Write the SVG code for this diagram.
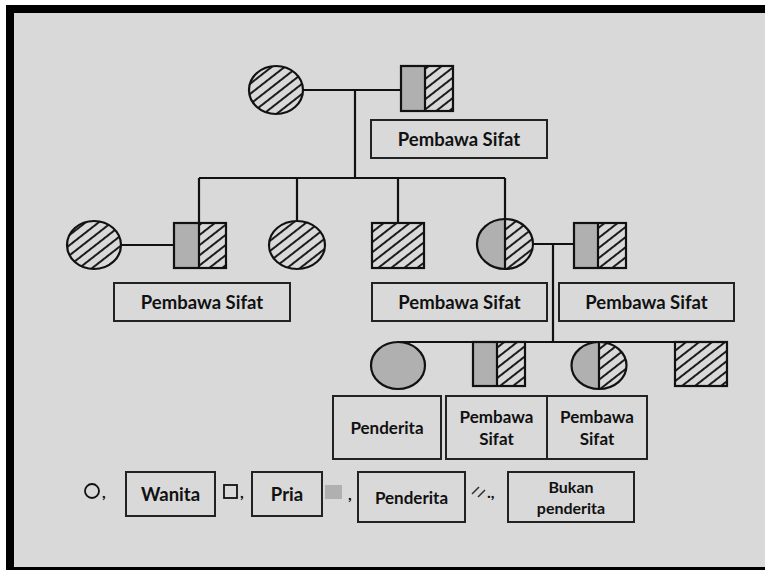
<svg xmlns="http://www.w3.org/2000/svg" width="765" height="571" viewBox="0 0 765 571">
<style>
.sh{stroke:#111;stroke-width:2.2;}
.g{fill:#b0b0b0;}
.h{fill:url(#hatch);}
.box{fill:none;stroke:#222;stroke-width:2;}
.t{font-family:Lato,"Open Sans",sans-serif;font-weight:bold;fill:#111;text-anchor:middle;}
.ln{stroke:#111;stroke-width:2.2;fill:none;}
</style>
<defs>
<pattern id="hatch" patternUnits="userSpaceOnUse" width="8" height="8" patternTransform="rotate(52)">
<line x1="4" y1="0" x2="4" y2="8" stroke="#111" stroke-width="1.9"/>
</pattern>
</defs>
<rect x="0" y="0" width="765" height="571" fill="#ffffff"/>
<rect x="6" y="5" width="759" height="565" fill="#d9d9d9"/>
<rect x="6" y="5" width="759" height="8" fill="#000"/>
<rect x="6" y="5" width="8" height="565" fill="#000"/>
<rect x="6" y="567" width="759" height="3" fill="#000"/>

<g id="connectors" class="ln">
<line x1="303" y1="90" x2="401" y2="90"/>
<line x1="355" y1="90" x2="355" y2="178"/>
<line x1="199" y1="178" x2="505" y2="178"/>
<line x1="199" y1="178" x2="199" y2="223"/>
<line x1="297" y1="178" x2="297" y2="221"/>
<line x1="398" y1="178" x2="398" y2="223"/>
<line x1="505" y1="178" x2="505" y2="219"/>
<line x1="121" y1="245" x2="174" y2="245"/>
<line x1="533" y1="244" x2="574" y2="244"/>
<line x1="553" y1="244" x2="553" y2="342"/>
<line x1="398" y1="342" x2="727" y2="342"/>
</g>

<g id="gen1-female">
<ellipse cx="276" cy="90" rx="27" ry="24" class="sh h"/>
</g>
<g id="gen1-male">
<rect x="401" y="66" width="24" height="45" class="g"/>
<rect x="425" y="66" width="28" height="45" class="h"/>
<rect x="401" y="66" width="52" height="45" class="sh" fill="none"/>
<line x1="425" y1="66" x2="425" y2="111" class="sh"/>
</g>
<g id="label-gen1">
<rect x="371" y="120" width="176" height="38" class="box"/>
<text x="459" y="146" class="t" font-size="18.5">Pembawa Sifat</text>
</g>

<g id="gen2-wife">
<ellipse cx="94" cy="245" rx="27" ry="24" class="sh h"/>
</g>
<g id="gen2-son1">
<rect x="174" y="223" width="25" height="45" class="g"/>
<rect x="199" y="223" width="27" height="45" class="h"/>
<rect x="174" y="223" width="52" height="45" class="sh" fill="none"/>
<line x1="199" y1="223" x2="199" y2="268" class="sh"/>
</g>
<g id="label-gen2-son1">
<rect x="114" y="283" width="176" height="38" class="box"/>
<text x="202" y="309" class="t" font-size="18.5">Pembawa Sifat</text>
</g>
<g id="gen2-daughter1">
<ellipse cx="297" cy="245" rx="28" ry="24" class="sh h"/>
</g>
<g id="gen2-son2">
<rect x="372" y="223" width="52" height="45" class="sh h"/>
</g>
<g id="gen2-daughter2">
<path d="M505,219 A28,25 0 0 0 505,269 Z" class="g"/>
<path d="M505,219 A28,25 0 0 1 505,269 Z" class="h"/>
<ellipse cx="505" cy="244" rx="28" ry="25" class="sh" fill="none"/>
<line x1="505" y1="219" x2="505" y2="269" class="sh"/>
</g>
<g id="gen2-husband">
<rect x="574" y="223" width="24" height="45" class="g"/>
<rect x="598" y="223" width="28" height="45" class="h"/>
<rect x="574" y="223" width="52" height="45" class="sh" fill="none"/>
<line x1="598" y1="223" x2="598" y2="268" class="sh"/>
</g>
<g id="label-gen2-daughter2">
<rect x="372" y="283" width="175" height="38" class="box"/>
<text x="459.5" y="309" class="t" font-size="18.5">Pembawa Sifat</text>
</g>
<g id="label-gen2-husband">
<rect x="559" y="283" width="175" height="38" class="box"/>
<text x="646.5" y="309" class="t" font-size="18.5">Pembawa Sifat</text>
</g>

<g id="gen3-daughter1">
<ellipse cx="398" cy="365.5" rx="27" ry="23.5" class="sh g"/>
</g>
<g id="gen3-son1">
<rect x="473" y="342" width="24" height="44" class="g"/>
<rect x="497" y="342" width="28" height="44" class="h"/>
<rect x="473" y="342" width="52" height="44" class="sh" fill="none"/>
<line x1="497" y1="342" x2="497" y2="386" class="sh"/>
</g>
<g id="gen3-daughter2">
<path d="M599,342 A27.5,23.5 0 0 0 599,389 Z" class="g"/>
<path d="M599,342 A27.5,23.5 0 0 1 599,389 Z" class="h"/>
<ellipse cx="599" cy="365.5" rx="27.5" ry="23.5" class="sh" fill="none"/>
<line x1="599" y1="342" x2="599" y2="389" class="sh"/>
</g>
<g id="gen3-son2">
<rect x="675" y="342" width="52" height="44" class="sh h"/>
</g>
<g id="label-gen3-daughter1">
<rect x="333" y="396" width="108" height="63" class="box"/>
<text x="387" y="434" class="t" font-size="17">Penderita</text>
</g>
<g id="label-gen3-son1">
<rect x="446" y="396" width="101" height="63" class="box"/>
<text x="496.5" y="423" class="t" font-size="17">Pembawa</text>
<text x="496.5" y="445" class="t" font-size="17">Sifat</text>
</g>
<g id="label-gen3-daughter2">
<rect x="547" y="396" width="100" height="63" class="box"/>
<text x="597" y="423" class="t" font-size="17">Pembawa</text>
<text x="597" y="445" class="t" font-size="17">Sifat</text>
</g>

<g id="legend">
<circle cx="92" cy="491" r="7" fill="none" stroke="#111" stroke-width="1.8"/>
<text x="102" y="498" class="t" font-size="16" style="text-anchor:start">,</text>
<rect x="126" y="472" width="89" height="44" class="box"/>
<text x="170.5" y="501" class="t" font-size="18.5">Wanita</text>
<rect x="224" y="485" width="13" height="13" fill="none" stroke="#111" stroke-width="1.8"/>
<text x="240" y="498" class="t" font-size="16" style="text-anchor:start">,</text>
<rect x="252" y="472" width="70" height="44" class="box"/>
<text x="287" y="501" class="t" font-size="18.5">Pria</text>
<rect x="325" y="485" width="17" height="14" fill="#b0b0b0"/>
<text x="348" y="500" class="t" font-size="16" style="text-anchor:start">,</text>
<rect x="358" y="472" width="107" height="50" class="box"/>
<text x="411.5" y="504" class="t" font-size="17">Penderita</text>
<line x1="472" y1="494" x2="479" y2="487" stroke="#333" stroke-width="1.6"/>
<line x1="478" y1="497" x2="485" y2="490" stroke="#333" stroke-width="1.6"/>
<text x="487" y="498" class="t" font-size="16" style="text-anchor:start">.,</text>
<rect x="508" y="472" width="126" height="50" class="box"/>
<text x="571" y="493" class="t" font-size="16">Bukan</text>
<text x="571" y="514" class="t" font-size="16">penderita</text>
</g>
</svg>
